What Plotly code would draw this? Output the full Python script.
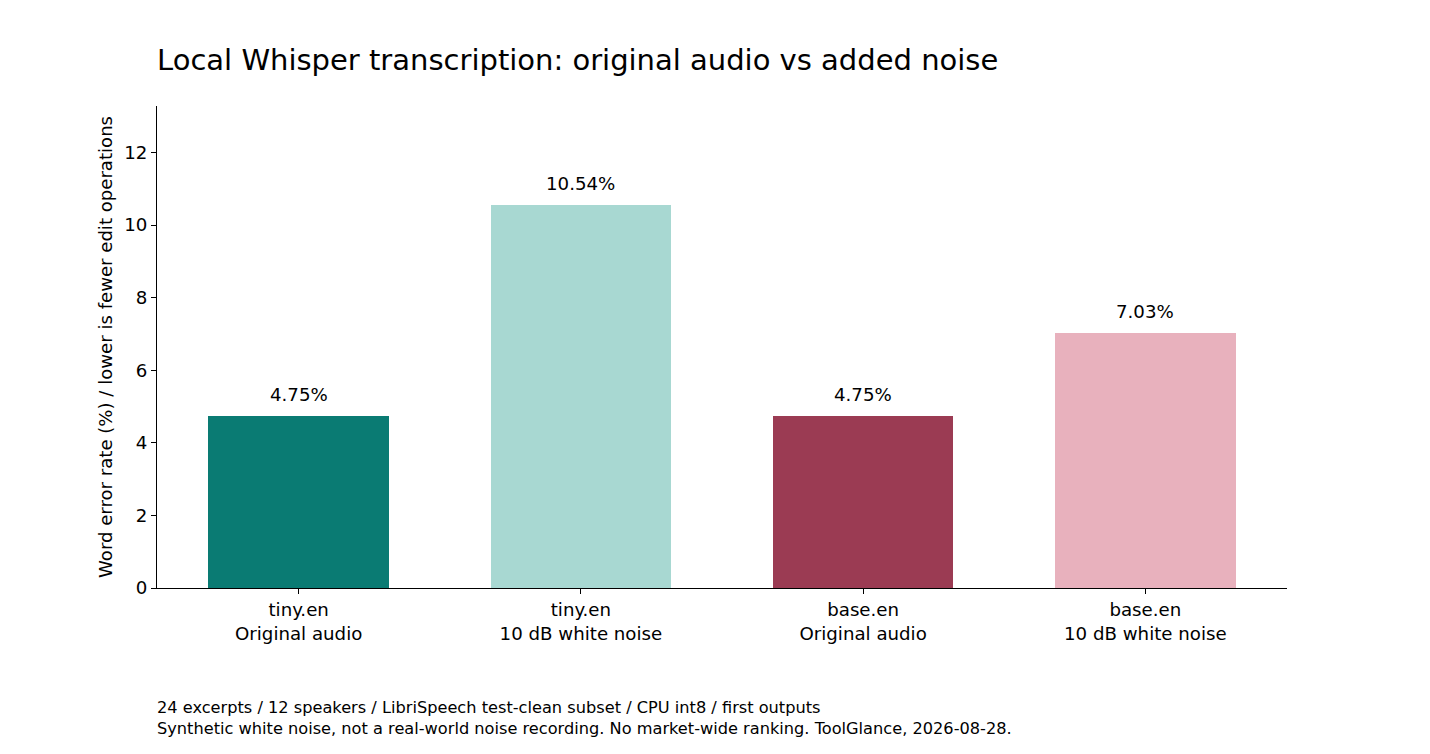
import plotly.graph_objects as go

# Data
models = ["tiny.en", "tiny.en", "base.en", "base.en"]
conditions = ["Original audio", "10 dB white noise", "Original audio", "10 dB white noise"]
wer = [4.75, 10.54, 4.75, 7.03]
colors = ["#0a7b73", "#a8d8d2", "#9b3b53", "#e8b1bd"]
y_ticks = [0, 2, 4, 6, 8, 10, 12]
notes = [
    "24 excerpts / 12 speakers / LibriSpeech test-clean subset / CPU int8 / first outputs",
    "Synthetic white noise, not a real-world noise recording. No market-wide ranking. ToolGlance, 2026-08-28.",
]

labels = [f"{m}<br>{c}" for m, c in zip(models, conditions)]
xpos = list(range(len(wer)))

# page body adds an 8px margin, so the figure is a bit smaller and shifted
W, H = 1422, 746
L, T = 149, 98
plot_h = 482

fig = go.Figure()

fig.add_trace(go.Bar(
    x=xpos,
    y=wer,
    width=0.64,
    marker=dict(color=colors, line=dict(width=0)),
    hoverinfo="skip",
))

# value labels above the bars
for x, v in zip(xpos, wer):
    fig.add_annotation(
        x=x, y=v, text=f"{v:.2f}%",
        showarrow=False, yanchor="bottom", yshift=9,
        font=dict(size=18.2, color="black"),
    )

# footnote
fig.add_annotation(
    xref="paper", yref="paper", x=0, y=-129.5 / plot_h, xshift=-2,
    xanchor="left", yanchor="middle", align="left",
    text="<br>".join(notes), showarrow=False,
    font=dict(size=16.2, color="black"),
)

fig.update_layout(
    width=W,
    height=H,
    margin=dict(l=L, r=143, t=T, b=H - T - plot_h),
    plot_bgcolor="white",
    paper_bgcolor="white",
    font=dict(family="DejaVu Sans", color="black", size=18.2),
    title=dict(
        text="Local Whisper transcription: original audio vs added noise",
        x=L / W, xref="container", xanchor="left",
        y=1 - 52 / H, yref="container", yanchor="middle",
        font=dict(size=29, color="black"),
    ),
    showlegend=False,
    bargap=0,
    xaxis=dict(
        range=[-0.502, 3.502],
        tickmode="array", tickvals=xpos, ticktext=labels,
        showline=True, linecolor="black", linewidth=1.1,
        ticks="outside", ticklen=5, tickwidth=1.1, tickcolor="black",
        showgrid=False, zeroline=False,
        tickfont=dict(size=18.2),
    ),
    yaxis=dict(
        range=[0, 13.28],
        tickmode="array", tickvals=y_ticks,
        showline=True, linecolor="black", linewidth=1.1,
        ticks="outside", ticklen=5, tickwidth=1.1, tickcolor="black",
        showgrid=False, zeroline=False,
        tickfont=dict(size=18.2),
        title=dict(text="Word error rate (%) / lower is fewer edit operations",
                   font=dict(size=18.1), standoff=6),
    ),
)

fig.write_html("out.html")
